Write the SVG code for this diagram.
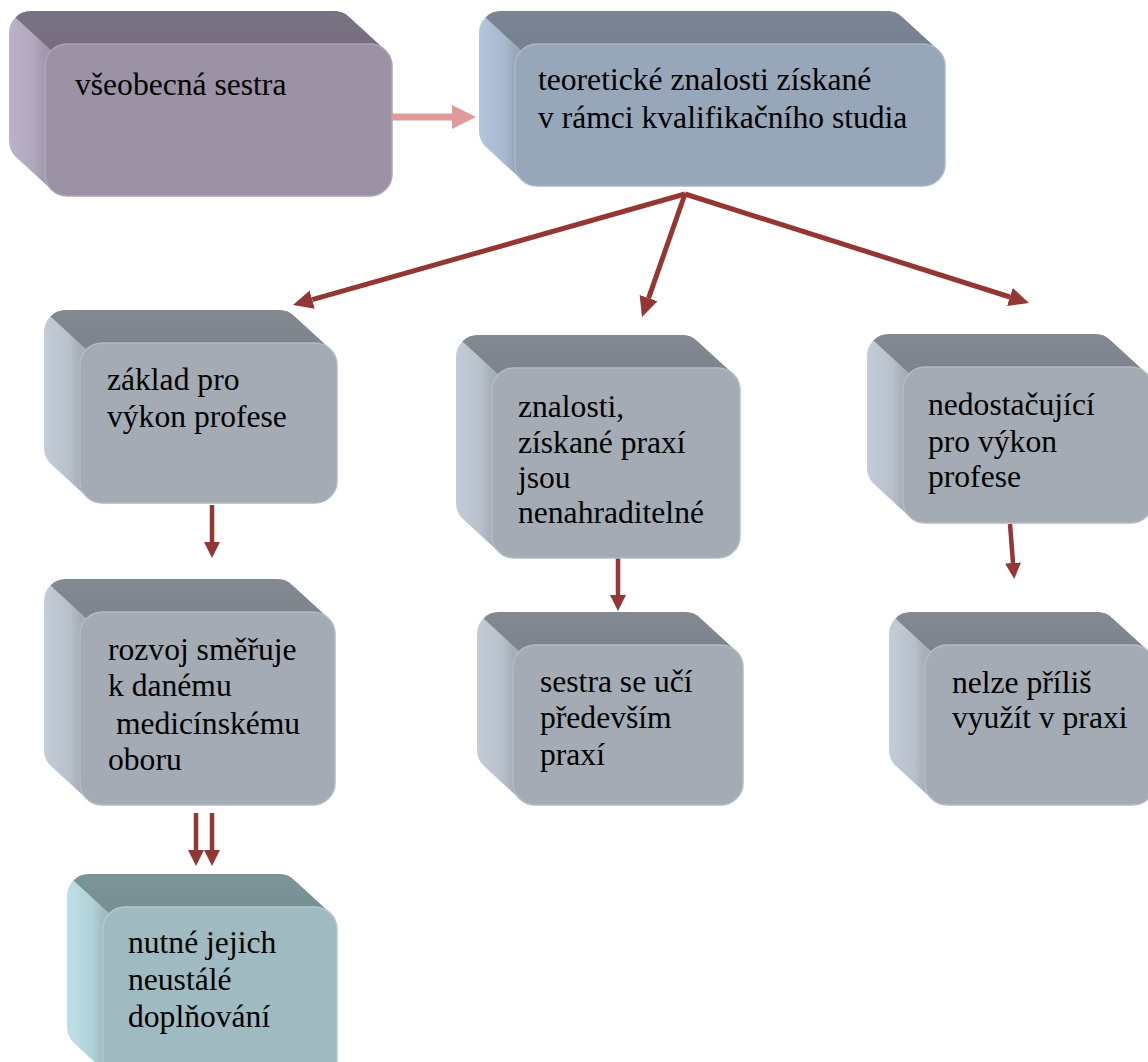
<svg xmlns="http://www.w3.org/2000/svg" width="1148" height="1062" viewBox="0 0 1148 1062">
<style>
text{font-family:"Liberation Serif","Times New Roman",serif;font-size:31.6px;fill:#000}
.conn{stroke:#943634;fill:none}
.fan{stroke-width:5}
.vert{stroke-width:4.5}
.pink{stroke:#e09a9a;stroke-width:7;fill:none}
.purple .front{fill:#9c92a5;stroke:#aea5b8}
.purple .top{fill:url(#topP)}
.purple .side{fill:url(#sideP)}
.blue .front{fill:#97a6b9;stroke:#a9b7c8}
.blue .top{fill:url(#topB)}
.blue .side{fill:url(#sideB)}
.gray .front{fill:#a4abb5;stroke:#b4bbc4}
.gray .top{fill:url(#topG)}
.gray .side{fill:url(#sideG)}
.teal .front{fill:#9fbac0;stroke:#b0cad0}
.teal .top{fill:url(#topT)}
.teal .side{fill:url(#sideT)}
.front{stroke-width:1.5}
</style>
<defs>
<linearGradient id="sideP" gradientUnits="userSpaceOnUse" x1="-36" y1="0" x2="0" y2="0"><stop offset="0" stop-color="#bbb1c9"/><stop offset="0.7" stop-color="#b0a6bd"/><stop offset="1" stop-color="#a097ab"/></linearGradient>
<linearGradient id="topP" gradientUnits="userSpaceOnUse" x1="0" y1="-33" x2="0" y2="0"><stop offset="0" stop-color="#7a7383"/><stop offset="1" stop-color="#766e7e"/></linearGradient>
<linearGradient id="sideB" gradientUnits="userSpaceOnUse" x1="-36" y1="0" x2="0" y2="0"><stop offset="0" stop-color="#b4c5dc"/><stop offset="0.7" stop-color="#a8b8ce"/><stop offset="1" stop-color="#98a7ba"/></linearGradient>
<linearGradient id="topB" gradientUnits="userSpaceOnUse" x1="0" y1="-33" x2="0" y2="0"><stop offset="0" stop-color="#7b8595"/><stop offset="1" stop-color="#76808f"/></linearGradient>
<linearGradient id="sideG" gradientUnits="userSpaceOnUse" x1="-36" y1="0" x2="0" y2="0"><stop offset="0" stop-color="#c3ccd7"/><stop offset="0.7" stop-color="#b7c0cb"/><stop offset="1" stop-color="#a6aeb8"/></linearGradient>
<linearGradient id="topG" gradientUnits="userSpaceOnUse" x1="0" y1="-33" x2="0" y2="0"><stop offset="0" stop-color="#838990"/><stop offset="1" stop-color="#7e848c"/></linearGradient>
<linearGradient id="sideT" gradientUnits="userSpaceOnUse" x1="-36" y1="0" x2="0" y2="0"><stop offset="0" stop-color="#bde0e7"/><stop offset="0.7" stop-color="#b1d2d9"/><stop offset="1" stop-color="#a0bcc2"/></linearGradient>
<linearGradient id="topT" gradientUnits="userSpaceOnUse" x1="0" y1="-33" x2="0" y2="0"><stop offset="0" stop-color="#7d9499"/><stop offset="1" stop-color="#788f94"/></linearGradient>
<marker id="headFan" markerUnits="userSpaceOnUse" markerWidth="22" markerHeight="20" refX="0" refY="9.5" orient="auto"><path d="M0,0 L20,9.5 L0,19 z" fill="#943634"/></marker>
<marker id="headV" markerUnits="userSpaceOnUse" markerWidth="18" markerHeight="18" refX="0" refY="8" orient="auto"><path d="M0,0 L16,8 L0,16 z" fill="#943634"/></marker>
<marker id="headPink" markerUnits="userSpaceOnUse" markerWidth="26" markerHeight="26" refX="0" refY="12" orient="auto"><path d="M0,0 L24,12 L0,24 z" fill="#e09a9a"/></marker>
<clipPath id="cA"><rect x="-36" y="-33" width="347" height="152" rx="22"/><rect x="0" y="0" width="347" height="152" rx="22"/><polygon points="-29.6,-26.6 304.6,-26.6 340.6,6.4 340.6,145.6 6.4,145.6 -29.6,112.6"/></clipPath>
<clipPath id="cB"><rect x="-36" y="-33" width="430" height="142" rx="22"/><rect x="0" y="0" width="430" height="142" rx="22"/><polygon points="-29.6,-26.6 387.6,-26.6 423.6,6.4 423.6,135.6 6.4,135.6 -29.6,102.6"/></clipPath>
<clipPath id="cC"><rect x="-36" y="-33" width="257" height="160" rx="22"/><rect x="0" y="0" width="257" height="160" rx="22"/><polygon points="-29.6,-26.6 214.6,-26.6 250.6,6.4 250.6,153.6 6.4,153.6 -29.6,120.6"/></clipPath>
<clipPath id="cD"><rect x="-36" y="-33" width="248" height="190" rx="22"/><rect x="0" y="0" width="248" height="190" rx="22"/><polygon points="-29.6,-26.6 205.6,-26.6 241.6,6.4 241.6,183.6 6.4,183.6 -29.6,150.6"/></clipPath>
<clipPath id="cE"><rect x="-36" y="-33" width="250" height="156" rx="22"/><rect x="0" y="0" width="250" height="156" rx="22"/><polygon points="-29.6,-26.6 207.6,-26.6 243.6,6.4 243.6,149.6 6.4,149.6 -29.6,116.6"/></clipPath>
<clipPath id="cF"><rect x="-36" y="-33" width="255" height="193" rx="22"/><rect x="0" y="0" width="255" height="193" rx="22"/><polygon points="-29.6,-26.6 212.6,-26.6 248.6,6.4 248.6,186.6 6.4,186.6 -29.6,153.6"/></clipPath>
<clipPath id="cG"><rect x="-36" y="-33" width="230" height="160" rx="22"/><rect x="0" y="0" width="230" height="160" rx="22"/><polygon points="-29.6,-26.6 187.6,-26.6 223.6,6.4 223.6,153.6 6.4,153.6 -29.6,120.6"/></clipPath>
<clipPath id="cI"><rect x="-36" y="-33" width="234" height="175" rx="22"/><rect x="0" y="0" width="234" height="175" rx="22"/><polygon points="-29.6,-26.6 191.6,-26.6 227.6,6.4 227.6,168.6 6.4,168.6 -29.6,135.6"/></clipPath>
</defs>
<rect width="1148" height="1062" fill="#ffffff"/>

<g id="connectors">
<line class="pink" x1="392" y1="117" x2="452" y2="117" marker-end="url(#headPink)"/>
<line class="conn fan" x1="685" y1="194" x2="312.2" y2="299.6" marker-end="url(#headFan)"/>
<line class="conn fan" x1="685" y1="194" x2="648.6" y2="298.1" marker-end="url(#headFan)"/>
<line class="conn fan" x1="685" y1="194" x2="1009.9" y2="297" marker-end="url(#headFan)"/>
<line class="conn vert" x1="212" y1="505" x2="212" y2="542" marker-end="url(#headV)"/>
<line class="conn vert" x1="618" y1="558" x2="618" y2="595" marker-end="url(#headV)"/>
<line class="conn vert" x1="1010" y1="524" x2="1013" y2="563" marker-end="url(#headV)"/>
<line class="conn vert" x1="196" y1="813" x2="196" y2="850" marker-end="url(#headV)"/>
<line class="conn vert" x1="212" y1="813" x2="212" y2="850" marker-end="url(#headV)"/>
</g>

<g id="node-vseobecna" class="purple" transform="translate(45,44)">
<g clip-path="url(#cA)"><rect class="side" x="-40" y="-40" width="400" height="200"/><polygon class="top" points="-65.6,-59.6 390,-59.6 390,40 40,40 6.4,6.4"/></g>
<rect class="front" x="0" y="0" width="347" height="152" rx="22"/>
<text x="30" y="51">všeobecná sestra</text>
</g>

<g id="node-teoreticke" class="blue" transform="translate(515,44)">
<g clip-path="url(#cB)"><rect class="side" x="-40" y="-40" width="480" height="190"/><polygon class="top" points="-65.6,-59.6 470,-59.6 470,40 40,40 6.4,6.4"/></g>
<rect class="front" x="0" y="0" width="430" height="142" rx="22"/>
<text x="23" y="46">teoretické znalosti získané</text>
<text x="23" y="84">v rámci kvalifikačního studia</text>
</g>

<g id="node-zaklad" class="gray" transform="translate(80,343)">
<g clip-path="url(#cC)"><rect class="side" x="-40" y="-40" width="310" height="210"/><polygon class="top" points="-65.6,-59.6 300,-59.6 300,40 40,40 6.4,6.4"/></g>
<rect class="front" x="0" y="0" width="257" height="160" rx="22"/>
<text x="27" y="47">základ pro</text>
<text x="27" y="84">výkon profese</text>
</g>

<g id="node-znalosti" class="gray" transform="translate(492,368)">
<g clip-path="url(#cD)"><rect class="side" x="-40" y="-40" width="300" height="240"/><polygon class="top" points="-65.6,-59.6 290,-59.6 290,40 40,40 6.4,6.4"/></g>
<rect class="front" x="0" y="0" width="248" height="190" rx="22"/>
<text x="26" y="49">znalosti,</text>
<text x="26" y="85">získané praxí</text>
<text x="26" y="120">jsou</text>
<text x="26" y="155">nenahraditelné</text>
</g>

<g id="node-nedostacujici" class="gray" transform="translate(903,367)">
<g clip-path="url(#cE)"><rect class="side" x="-40" y="-40" width="300" height="210"/><polygon class="top" points="-65.6,-59.6 290,-59.6 290,40 40,40 6.4,6.4"/></g>
<rect class="front" x="0" y="0" width="250" height="156" rx="22"/>
<text x="25" y="48">nedostačující</text>
<text x="25" y="85">pro výkon</text>
<text x="25" y="120">profese</text>
</g>

<g id="node-rozvoj" class="gray" transform="translate(80,612)">
<g clip-path="url(#cF)"><rect class="side" x="-40" y="-40" width="310" height="240"/><polygon class="top" points="-65.6,-59.6 300,-59.6 300,40 40,40 6.4,6.4"/></g>
<rect class="front" x="0" y="0" width="255" height="193" rx="22"/>
<text x="28" y="48">rozvoj směřuje</text>
<text x="28" y="84">k danému</text>
<text x="28" y="122" xml:space="preserve"> medicínskému</text>
<text x="28" y="158">oboru</text>
</g>

<g id="node-sestra" class="gray" transform="translate(513,645)">
<g clip-path="url(#cG)"><rect class="side" x="-40" y="-40" width="280" height="210"/><polygon class="top" points="-65.6,-59.6 270,-59.6 270,40 40,40 6.4,6.4"/></g>
<rect class="front" x="0" y="0" width="230" height="160" rx="22"/>
<text x="27" y="47">sestra se učí</text>
<text x="27" y="83">především</text>
<text x="27" y="120">praxí</text>
</g>

<g id="node-nelze" class="gray" transform="translate(925,645)">
<g clip-path="url(#cG)"><rect class="side" x="-40" y="-40" width="280" height="210"/><polygon class="top" points="-65.6,-59.6 270,-59.6 270,40 40,40 6.4,6.4"/></g>
<rect class="front" x="0" y="0" width="230" height="160" rx="22"/>
<text x="27" y="48">nelze příliš</text>
<text x="27" y="83">využít v praxi</text>
</g>

<g id="node-nutne" class="teal" transform="translate(103,907)">
<g clip-path="url(#cI)"><rect class="side" x="-40" y="-40" width="290" height="230"/><polygon class="top" points="-65.6,-59.6 280,-59.6 280,40 40,40 6.4,6.4"/></g>
<rect class="front" x="0" y="0" width="234" height="175" rx="22"/>
<text x="25" y="46">nutné jejich</text>
<text x="25" y="83">neustálé</text>
<text x="25" y="120">doplňování</text>
</g>
</svg>
